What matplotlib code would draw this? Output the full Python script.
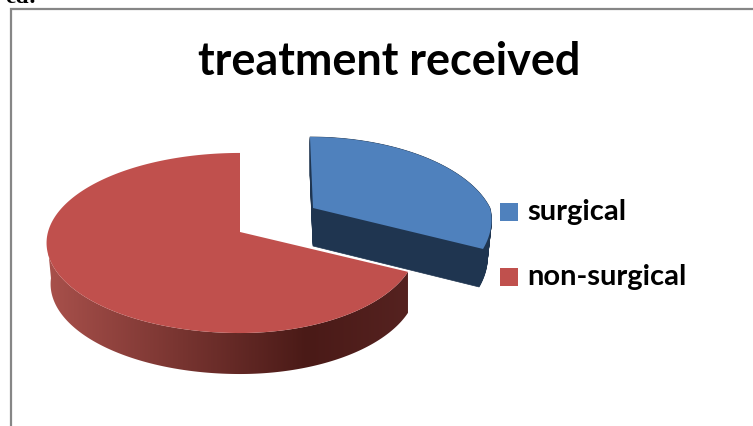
import matplotlib
matplotlib.use('Agg')
import matplotlib.pyplot as plt
from matplotlib.colors import LinearSegmentedColormap
from matplotlib.patches import Rectangle, Polygon
import numpy as np

labels = ['surgical', 'non-surgical']
values = [32, 68]
top_colors = ['#4f81bd', '#c0504d']
title = 'treatment received'

plt.rcParams['font.family'] = ['Lato', 'DejaVu Sans']

fig = plt.figure(figsize=(7.53, 4.26), dpi=100)
ax = fig.add_axes([0, 0, 1, 1])


# disc angle -> screen position, with a bit of perspective
def project(t, cx, cy, rx_l, rx_r, ry, p, skew=0.0, pinch=0.0):
    u, v = np.cos(t), np.sin(t)
    s = 1 / (1 - p * v)
    rx = np.where(u < 0, rx_l, rx_r) * (1 - pinch * np.clip(v, 0, 1))
    return cx + (rx * u + skew * v) * s, cy + ry * v * s


# t = 0 points right, t grows clockwise on screen, slices start at 12 o'clock
frac = values[0] / sum(values)
t0 = -np.pi / 2
t1 = t0 + 2 * np.pi * frac
t2 = t0 + 2 * np.pi

# ---------------------------- red slice -------------------------------
red = dict(cx=240, cy=232, rx_l=192, rx_r=176, ry=88.7, p=0.122)
red_depth = 41
ts = np.linspace(t1, t2, 300)
rim_x, rim_y = project(ts, **red)

# outer wall, gradient image clipped to the wall outline
keep = rim_y > red['cy'] + 5
wall_x, wall_y = rim_x[keep], rim_y[keep]
low_x = wall_x + 4 * np.clip(red['cx'] - wall_x, 0, None) / 192
wall_cmap = LinearSegmentedColormap.from_list(
    'wall', [(0, '#a8504b'), (0.72, '#4a1a17'), (1, '#552220')])
im = ax.imshow(np.linspace(0, 1, 400).reshape(1, -1), cmap=wall_cmap, aspect='auto',
               extent=(48, 408, 426, 0), zorder=1)
outline = Polygon(np.c_[np.r_[wall_x, low_x[::-1]], np.r_[wall_y, wall_y[::-1] + red_depth]],
                  transform=ax.transData, fc='none', ec='none')
ax.add_patch(outline)
im.set_clip_path(outline)
ax.fill(np.r_[red['cx'], rim_x], np.r_[red['cy'], rim_y], color=top_colors[1], lw=0, zorder=2)

# ---------------------------- blue slice ------------------------------
blue = dict(cx=313, cy=208, rx_l=177, rx_r=177, ry=87, p=0.225, skew=3.7, pinch=0.117)
blue_depth = 38
ts = np.linspace(t0, t1, 120)
rim_x, rim_y = project(ts, **blue)
top_x, top_y = np.r_[blue['cx'], rim_x], np.r_[blue['cy'], rim_y]
for d in np.arange(0, blue_depth + 1):
    ax.fill(top_x - 4 * d / blue_depth * (top_x - blue['cx']) / 172, top_y + d,
            color='#1f3550', lw=0.5, zorder=3)
ax.fill(top_x, top_y, color=top_colors[0], lw=0, zorder=4)

# ------------------------------ legend --------------------------------
for lab, col, y in zip(labels, top_colors, [212, 277]):
    ax.add_patch(Rectangle((500, y - 9), 18, 18, color=col, lw=0))
    ax.text(527, y, lab, fontsize=21, fontweight='bold', va='center', ha='left', color='black')

ax.text(389, 62, title, fontsize=32.4, fontweight='bold', va='center', ha='center', color='black')

# chart frame and the cut off text line above it
ax.plot([11, 11, 753], [426, 9, 9], color='#868686', lw=1.6, solid_joinstyle='miter')
ax.text(5, 3, 'ed:', fontsize=17, fontweight='bold', family=['Liberation Serif'], va='baseline', ha='left')

ax.set_xlim(0, 753)
ax.set_ylim(426, 0)
ax.axis('off')

fig.savefig('out.png', dpi=100)
